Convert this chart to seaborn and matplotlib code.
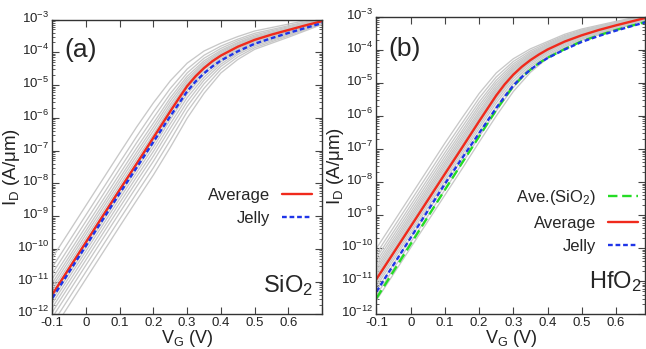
import math
import pandas as pd
import seaborn as sns
import matplotlib.pyplot as plt
from matplotlib.lines import Line2D
from matplotlib.transforms import ScaledTranslation
from matplotlib.ticker import FixedLocator, FuncFormatter, NullFormatter

# gate voltage grids (V): coarse for the device spread, finer for the highlighted curves
vg = [-0.1, 0.0, 0.1, 0.15, 0.2, 0.25, 0.3, 0.35, 0.4, 0.45, 0.5, 0.6, 0.7]
vg_fine = [-0.1, 0.0, 0.1, 0.15, 0.2, 0.225, 0.25, 0.275, 0.3, 0.325, 0.35, 0.375, 0.4,
           0.45, 0.5, 0.55, 0.6, 0.65, 0.7]

# log10(I_D) in A/um
sio2_avg = [-11.39, -9.79, -8.19, -7.40, -6.60, -6.20, -5.80, -5.41, -5.03, -4.73, -4.48, -4.27,
            -4.10, -3.83, -3.62, -3.46, -3.32, -3.18, -3.05]
sio2_jelly = [-11.50, -9.90, -8.30, -7.52, -6.73, -6.34, -5.95, -5.57, -5.19, -4.89, -4.64, -4.43,
              -4.25, -3.97, -3.74, -3.57, -3.41, -3.26, -3.11]
sio2_samples = [
    [-10.27, -8.67, -7.07, -6.28, -5.54, -4.87, -4.33, -3.96, -3.72, -3.52, -3.35, -3.14, -2.93],
    [-10.56, -8.96, -7.36, -6.57, -5.81, -5.10, -4.51, -4.09, -3.81, -3.60, -3.42, -3.19, -2.96],
    [-10.75, -9.15, -7.55, -6.76, -6.00, -5.26, -4.63, -4.18, -3.88, -3.65, -3.47, -3.22, -2.98],
    [-10.91, -9.31, -7.71, -6.92, -6.16, -5.39, -4.73, -4.26, -3.94, -3.70, -3.51, -3.25, -2.99],
    [-11.04, -9.44, -7.84, -7.05, -6.28, -5.49, -4.81, -4.32, -3.98, -3.73, -3.54, -3.28, -3.01],
    [-11.15, -9.55, -7.95, -7.16, -6.39, -5.59, -4.88, -4.37, -4.02, -3.76, -3.56, -3.30, -3.02],
    [-11.26, -9.66, -8.06, -7.27, -6.50, -5.68, -4.95, -4.42, -4.06, -3.79, -3.59, -3.32, -3.03],
    [-11.36, -9.76, -8.16, -7.37, -6.59, -5.75, -5.01, -4.47, -4.09, -3.82, -3.61, -3.33, -3.04],
    [-11.45, -9.85, -8.25, -7.46, -6.68, -5.84, -5.09, -4.52, -4.13, -3.85, -3.64, -3.35, -3.05],
    [-11.55, -9.95, -8.35, -7.56, -6.78, -5.94, -5.17, -4.59, -4.18, -3.89, -3.66, -3.37, -3.06],
    [-11.66, -10.06, -8.46, -7.67, -6.89, -6.05, -5.27, -4.67, -4.23, -3.92, -3.69, -3.39, -3.07],
    [-11.79, -10.19, -8.59, -7.80, -7.02, -6.18, -5.38, -4.76, -4.29, -3.97, -3.73, -3.41, -3.08],
    [-11.93, -10.33, -8.73, -7.94, -7.16, -6.32, -5.51, -4.85, -4.36, -4.02, -3.76, -3.44, -3.09],
    [-12.09, -10.49, -8.89, -8.10, -7.32, -6.48, -5.65, -4.96, -4.43, -4.07, -3.81, -3.47, -3.11],
    [-12.29, -10.69, -9.09, -8.30, -7.52, -6.68, -5.81, -5.10, -4.52, -4.14, -3.86, -3.50, -3.13],
    [-12.51, -10.91, -9.31, -8.52, -7.74, -6.90, -6.01, -5.25, -4.63, -4.22, -3.91, -3.54, -3.15],
]

hfo2_avg = [-10.93, -9.34, -7.75, -6.96, -6.16, -5.77, -5.38, -5.04, -4.75, -4.51, -4.31, -4.14,
            -3.99, -3.75, -3.56, -3.40, -3.26, -3.13, -3.00]
hfo2_jelly = [-11.31, -9.68, -8.05, -7.28, -6.52, -6.14, -5.76, -5.41, -5.08, -4.82, -4.60, -4.41,
              -4.25, -3.99, -3.76, -3.58, -3.42, -3.27, -3.13]
hfo2_ref_sio2 = [-11.51, -9.87, -8.23, -7.42, -6.62, -6.22, -5.82, -5.45, -5.10, -4.83, -4.60, -4.40,
                 -4.24, -3.98, -3.74, -3.56, -3.40, -3.26, -3.12]
hfo2_samples = [
    [-10.00, -8.41, -6.82, -6.06, -5.32, -4.70, -4.27, -3.97, -3.75, -3.53, -3.37, -3.14, -2.92],
    [-10.16, -8.57, -6.98, -6.22, -5.46, -4.82, -4.35, -4.03, -3.79, -3.57, -3.40, -3.17, -2.93],
    [-10.29, -8.70, -7.11, -6.34, -5.58, -4.92, -4.42, -4.08, -3.83, -3.60, -3.43, -3.18, -2.94],
    [-10.40, -8.81, -7.22, -6.45, -5.68, -5.00, -4.48, -4.12, -3.86, -3.63, -3.45, -3.20, -2.95],
    [-10.50, -8.91, -7.32, -6.54, -5.77, -5.08, -4.53, -4.16, -3.89, -3.65, -3.47, -3.22, -2.96],
    [-10.59, -9.00, -7.41, -6.63, -5.86, -5.15, -4.58, -4.19, -3.92, -3.67, -3.49, -3.23, -2.97],
    [-10.67, -9.08, -7.49, -6.71, -5.93, -5.21, -4.62, -4.22, -3.94, -3.69, -3.51, -3.24, -2.98],
    [-10.75, -9.16, -7.57, -6.79, -6.00, -5.27, -4.67, -4.25, -3.96, -3.71, -3.52, -3.25, -2.99],
    [-10.83, -9.24, -7.65, -6.87, -6.07, -5.33, -4.71, -4.28, -3.98, -3.73, -3.54, -3.27, -2.99],
    [-10.90, -9.31, -7.72, -6.93, -6.13, -5.38, -4.74, -4.31, -4.00, -3.74, -3.55, -3.28, -3.00],
    [-10.98, -9.39, -7.80, -7.01, -6.21, -5.45, -4.80, -4.35, -4.03, -3.76, -3.57, -3.29, -3.00],
    [-11.06, -9.47, -7.88, -7.09, -6.29, -5.52, -4.86, -4.39, -4.06, -3.79, -3.59, -3.30, -3.01],
    [-11.15, -9.56, -7.97, -7.18, -6.38, -5.61, -4.94, -4.45, -4.09, -3.81, -3.61, -3.32, -3.02],
    [-11.27, -9.68, -8.09, -7.30, -6.49, -5.72, -5.02, -4.51, -4.14, -3.85, -3.64, -3.34, -3.03],
    [-11.41, -9.82, -8.23, -7.44, -6.63, -5.85, -5.14, -4.59, -4.19, -3.89, -3.67, -3.36, -3.04],
    [-11.57, -9.98, -8.39, -7.60, -6.79, -6.00, -5.26, -4.68, -4.25, -3.93, -3.71, -3.38, -3.06],
]

x_ticks = [-0.1, 0.0, 0.1, 0.2, 0.3, 0.4, 0.5, 0.6, 0.7]
decades = list(range(-12, -2))

RED = '#f02a1c'
BLUE = '#1f35e8'
GREEN = '#25dc25'
GRAY = '#c8c8c8'

sns.set_style('ticks')
plt.rcParams['font.family'] = ['Liberation Sans', 'DejaVu Sans']
plt.rcParams['mathtext.default'] = 'regular'
plt.rcParams['axes.unicode_minus'] = False


def curve_df(values):
    return pd.DataFrame({'vg': vg_fine, 'id': [10 ** v for v in values]})


def samples_df(samples):
    rows = []
    for i, s in enumerate(samples):
        for x, v in zip(vg, s):
            rows.append((i, x, 10 ** v))
    return pd.DataFrame(rows, columns=['dev', 'vg', 'id'])


def style_axes(ax, xmax):
    ax.set_yscale('log')
    ax.set_xlim(-0.1, xmax)
    ax.set_ylim(1e-12, 1e-3)
    ax.xaxis.set_major_locator(FixedLocator(x_ticks))
    ax.xaxis.set_major_formatter(FuncFormatter(lambda v, p: '' if v > 0.65 else f'{v:g}'))
    ax.yaxis.set_major_locator(FixedLocator([10.0 ** e for e in decades]))
    ax.yaxis.set_major_formatter(FuncFormatter(lambda v, p: f'10$^{{{round(math.log10(v))}}}$'))
    ax.yaxis.set_minor_locator(FixedLocator([k * 10.0 ** e for e in decades[:-1] for k in range(2, 10)]))
    ax.yaxis.set_minor_formatter(NullFormatter())
    ax.tick_params(which='both', direction='in', top=True, right=True,
                   colors='#444444', labelcolor='#222222', labelsize=9.5)
    ax.tick_params(which='major', length=5, width=0.8)
    ax.tick_params(which='minor', length=2.5, width=0.6)
    ax.tick_params(axis='x', pad=2)
    ax.tick_params(axis='y', pad=2.5)
    for sp in ax.spines.values():
        sp.set_color('#333333')
        sp.set_linewidth(1.0)
    # the digits sit on the tick, the exponent above it
    lift = ScaledTranslation(0, 2.2 / 72, fig.dpi_scale_trans)
    for t in ax.yaxis.get_major_ticks():
        t.label1.set_transform(t.label1.get_transform() + lift)


def set_labels(ax):
    ax.set_xlabel('V$_G$ (V)', fontsize=13, color='#222222')
    ax.set_ylabel('I$_D$ (A/\u03bcm)', fontsize=13.5, color='#222222')
    ax.xaxis.set_label_coords(0.5, -0.045)
    ax.yaxis.set_label_coords(-0.112, 0.5)


fig = plt.figure(figsize=(6.46, 3.49), dpi=100)
ax1 = fig.add_axes([0.081, 0.099, 0.4175, 0.845])
ax2 = fig.add_axes([0.5828, 0.099, 0.4157, 0.853])

h_avg = Line2D([], [], color=RED, lw=1.7)
h_jel = Line2D([], [], color=BLUE, lw=1.7, dashes=(2, 1.2))
h_ref = Line2D([], [], color=GREEN, lw=1.7, dashes=(4, 2))
leg_kw = dict(loc='upper right', frameon=False, markerfirst=False, fontsize=12, borderpad=0,
              borderaxespad=0, handlelength=1.8, handletextpad=0.7, labelspacing=0.52)

# panel (a): SiO2
style_axes(ax1, 0.7)
sns.lineplot(data=samples_df(sio2_samples), x='vg', y='id', units='dev', estimator=None,
             color=GRAY, lw=0.95, ax=ax1, legend=False)
sns.lineplot(data=curve_df(sio2_avg), x='vg', y='id', color=RED, lw=1.7, ax=ax1)
sns.lineplot(data=curve_df(sio2_jelly), x='vg', y='id', color=BLUE, lw=1.7, ax=ax1)
ax1.lines[-1].set_dashes((2, 1.2))
set_labels(ax1)
ax1.text(0.045, 0.897, '(a)', transform=ax1.transAxes, fontsize=19, ha='left', va='center')
ax1.text(0.966, 0.076, 'SiO$_2$', transform=ax1.transAxes, fontsize=17, ha='right', va='baseline')
ax1.legend([h_avg, h_jel], ['Average', 'Jelly'], bbox_to_anchor=(0.962, 0.43), **leg_kw)

# panel (b): HfO2
style_axes(ax2, 0.685)
sns.lineplot(data=samples_df(hfo2_samples), x='vg', y='id', units='dev', estimator=None,
             color=GRAY, lw=0.95, ax=ax2, legend=False)
sns.lineplot(data=curve_df(hfo2_ref_sio2), x='vg', y='id', color=GREEN, lw=1.7, ax=ax2)
ax2.lines[-1].set_dashes((4, 2))
sns.lineplot(data=curve_df(hfo2_jelly), x='vg', y='id', color=BLUE, lw=1.7, ax=ax2)
ax2.lines[-1].set_dashes((2, 1.2))
sns.lineplot(data=curve_df(hfo2_avg), x='vg', y='id', color=RED, lw=1.7, ax=ax2)
set_labels(ax2)
ax2.text(0.043, 0.893, '(b)', transform=ax2.transAxes, fontsize=19, ha='left', va='center')
ax2.text(0.989, 0.09, 'HfO$_2$', transform=ax2.transAxes, fontsize=17, ha='right', va='baseline')
ax2.legend([h_ref, h_avg, h_jel], ['Ave.(SiO$_2$)', 'Average', 'Jelly'],
           bbox_to_anchor=(0.974, 0.425), **leg_kw)

fig.savefig('out.png', dpi=100)
